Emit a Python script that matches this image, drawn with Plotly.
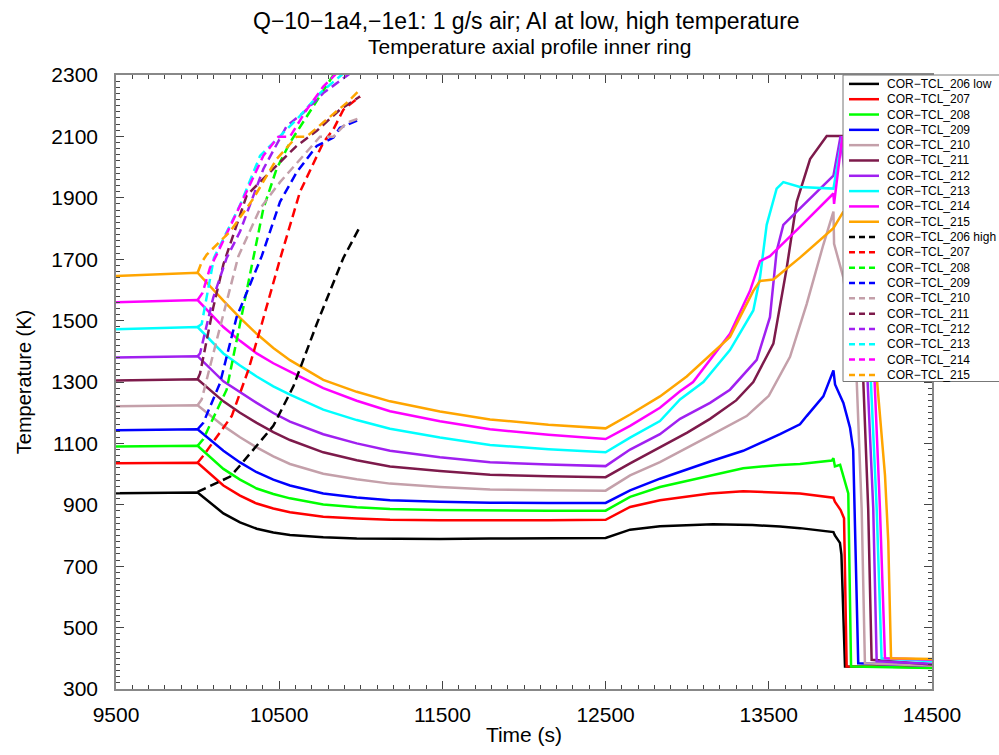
import plotly.graph_objects as go

# ---------------- data ----------------
sensors = ["206", "207", "208", "209", "210", "211", "212", "213", "214", "215"]
colors = ["#000000", "#FF0000", "#00FF00", "#0000FF", "#C4A0AA",
          "#7D1A4B", "#A020F0", "#00FFFF", "#FF00FF", "#FFA500"]
low_labels = ["COR-TCL_206 low", "COR-TCL_207", "COR-TCL_208", "COR-TCL_209", "COR-TCL_210",
              "COR-TCL_211", "COR-TCL_212", "COR-TCL_213", "COR-TCL_214", "COR-TCL_215"]
high_labels = ["COR-TCL_206 high", "COR-TCL_207", "COR-TCL_208", "COR-TCL_209", "COR-TCL_210",
               "COR-TCL_211", "COR-TCL_212", "COR-TCL_213", "COR-TCL_214", "COR-TCL_215"]

# low temperature case: common early time grid (s)
t_early = [9500, 10000, 10158, 10260, 10362, 10464, 10566, 10770, 10975, 11179, 11485, 11792, 12150]
low206_early = [938, 940, 872, 843, 822, 810, 802, 794, 790, 789, 789, 790, 791]
low207_early = [1035, 1037, 963, 930, 904, 888, 876, 861, 855, 851, 850, 849, 850]
low208_early = [1090, 1092, 1017, 982, 953, 935, 921, 901, 892, 886, 883, 881, 881]
low209_early = [1143, 1146, 1076, 1038, 1006, 982, 963, 937, 924, 915, 910, 907, 906]
low210_early = [1221, 1224, 1157, 1120, 1087, 1058, 1033, 1001, 983, 969, 958, 950, 947]
low211_early = [1305, 1309, 1237, 1200, 1167, 1137, 1111, 1071, 1045, 1025, 1010, 998, 993]
low212_early = [1380, 1384, 1302, 1266, 1232, 1199, 1171, 1130, 1100, 1076, 1055, 1039, 1031]
low213_early = [1472, 1479, 1393, 1354, 1318, 1286, 1259, 1210, 1176, 1148, 1119, 1095, 1081]
low214_early = [1560, 1567, 1479, 1434, 1393, 1361, 1334, 1280, 1239, 1205, 1172, 1146, 1128]
low215_early = [1645, 1656, 1565, 1509, 1457, 1411, 1371, 1307, 1268, 1237, 1204, 1178, 1161]

# low temperature case: late part (from 12500 s)
low206_t = [12500, 12650, 12833, 13158, 13400, 13569, 13691, 13896, 13905, 13936, 13945, 13967, 14500]
low206_T = [792, 819, 830, 837, 834, 829, 824, 811, 800, 776, 738, 373, 372]
low207_t = [12500, 12650, 12833, 13140, 13343, 13569, 13691, 13896, 13905, 13940, 13961, 13977, 14500]
low207_T = [851, 893, 915, 937, 944, 940, 937, 923, 910, 883, 856, 373, 372]
low208_t = [12500, 12650, 12833, 13140, 13343, 13569, 13691, 13886, 13896, 13905, 13937, 13987, 14004, 14500]
low208_T = [881, 926, 958, 996, 1019, 1030, 1033, 1044, 1052, 1025, 1030, 937, 373, 368]
low209_t = [12500, 12650, 12833, 13140, 13343, 13569, 13691, 13732, 13834, 13896, 13906, 13957, 13998, 14017, 14030, 14048, 14500]
low209_T = [906, 947, 985, 1041, 1076, 1130, 1162, 1189, 1253, 1338, 1292, 1232, 1150, 1080, 780, 384, 376]
low210_t = [12500, 12650, 12833, 13140, 13364, 13500, 13630, 13732, 13834, 13896, 13900, 13957, 14039, 14069, 14089, 14500]
low210_T = [946, 996, 1039, 1125, 1189, 1255, 1382, 1554, 1747, 1855, 1750, 1640, 1300, 888, 384, 376]
low211_t = [12500, 12650, 12833, 13000, 13140, 13300, 13405, 13528, 13610, 13671, 13753, 13855, 13957, 14078, 14109, 14130, 14500]
low211_T = [990, 1035, 1087, 1135, 1180, 1240, 1300, 1425, 1672, 1887, 2026, 2101, 2101, 1318, 888, 395, 380]
low212_t = [12500, 12650, 12833, 12956, 13140, 13262, 13426, 13507, 13548, 13589, 13671, 13896, 13940, 14104, 14140, 14161, 14500]
low212_T = [1026, 1080, 1130, 1180, 1232, 1275, 1372, 1511, 1726, 1812, 1855, 1972, 2101, 1318, 888, 390, 382]
low213_t = [12500, 12650, 12833, 12956, 13099, 13262, 13405, 13446, 13487, 13548, 13589, 13691, 13896, 13950, 14124, 14161, 14191, 14500]
low213_T = [1071, 1119, 1173, 1243, 1300, 1404, 1533, 1640, 1812, 1930, 1951, 1935, 1930, 2100, 1318, 888, 400, 390]
low214_t = [12500, 12650, 12833, 12956, 13036, 13262, 13385, 13446, 13507, 13691, 13896, 13900, 13950, 14147, 14181, 14212, 14500]
low214_T = [1114, 1157, 1216, 1270, 1300, 1457, 1597, 1694, 1710, 1805, 1914, 1880, 2100, 1318, 888, 400, 395]
low215_t = [12500, 12650, 12833, 12997, 13262, 13405, 13446, 13528, 13691, 13896, 13957, 14161, 14212, 14232, 14249, 14500]
low215_T = [1149, 1194, 1253, 1318, 1447, 1597, 1629, 1634, 1705, 1801, 1855, 1318, 996, 781, 400, 398]

# high temperature case
high206_t = [10000, 10100, 10200, 10260, 10350, 10464, 10587, 10730, 10893, 10995]
high206_T = [942, 968, 992, 1028, 1085, 1157, 1286, 1489, 1704, 1806]
high207_t = [10000, 10035, 10209, 10311, 10393, 10505, 10627, 10770, 10832, 10893, 10995]
high207_T = [1037, 1060, 1189, 1339, 1489, 1700, 1919, 2080, 2123, 2187, 2230]
high208_t = [10000, 10035, 10178, 10260, 10341, 10403, 10484, 10566, 10709, 10832, 10850]
high208_T = [1092, 1114, 1275, 1489, 1710, 1865, 1994, 2080, 2198, 2300, 2320]
high209_t = [10000, 10035, 10137, 10239, 10393, 10505, 10607, 10730, 10832, 10872, 10995]
high209_T = [1146, 1167, 1296, 1511, 1710, 1887, 1983, 2069, 2096, 2128, 2155]
high210_t = [10000, 10025, 10117, 10250, 10383, 10505, 10648, 10750, 10832, 10913, 10995]
high210_T = [1224, 1243, 1436, 1710, 1865, 1951, 2037, 2099, 2099, 2144, 2160]
high211_t = [10000, 10015, 10096, 10158, 10178, 10301, 10484, 10607, 10730, 10872, 10995]
high211_T = [1309, 1328, 1543, 1683, 1715, 1908, 2005, 2069, 2118, 2187, 2230]
high212_t = [10000, 10015, 10096, 10178, 10260, 10403, 10546, 10648, 10770, 10934, 10950]
high212_T = [1384, 1393, 1575, 1704, 1790, 1994, 2134, 2177, 2241, 2305, 2320]
high213_t = [10000, 10025, 10100, 10180, 10260, 10383, 10500, 10607, 10750, 10893, 10910]
high213_T = [1479, 1489, 1704, 1790, 1876, 2037, 2100, 2155, 2241, 2305, 2320]
high214_t = [10000, 10030, 10076, 10117, 10280, 10403, 10495, 10566, 10668, 10770, 10852, 10870]
high214_T = [1567, 1590, 1672, 1715, 1897, 2037, 2099, 2099, 2187, 2262, 2306, 2320]
high215_t = [10000, 10025, 10056, 10199, 10341, 10484, 10607, 10668, 10791, 10913, 10995]
high215_T = [1656, 1690, 1715, 1790, 1897, 2026, 2099, 2099, 2155, 2209, 2252]

x_tickvals = [9500, 10500, 11500, 12500, 13500, 14500]
y_tickvals = [300, 500, 700, 900, 1100, 1300, 1500, 1700, 1900, 2100, 2300]

# ---------------- figure ----------------
low_early = [low206_early, low207_early, low208_early, low209_early, low210_early,
             low211_early, low212_early, low213_early, low214_early, low215_early]
low_t = [low206_t, low207_t, low208_t, low209_t, low210_t, low211_t, low212_t, low213_t, low214_t, low215_t]
low_T = [low206_T, low207_T, low208_T, low209_T, low210_T, low211_T, low212_T, low213_T, low214_T, low215_T]
high_t = [high206_t, high207_t, high208_t, high209_t, high210_t, high211_t, high212_t, high213_t, high214_t, high215_t]
high_T = [high206_T, high207_T, high208_T, high209_T, high210_T, high211_T, high212_T, high213_T, high214_T, high215_T]

DASH = "9px,5px"
LW = 2.5
FONT = "Liberation Sans, Arial, sans-serif"

fig = go.Figure()
for i in range(len(sensors)):
    fig.add_trace(go.Scatter(
        x=t_early + low_t[i], y=low_early[i] + low_T[i], mode="lines",
        name=low_labels[i].replace("-", "\u2212"),
        line=dict(color=colors[i], width=LW), showlegend=False))
for i in range(len(sensors)):
    fig.add_trace(go.Scatter(
        x=high_t[i], y=high_T[i], mode="lines",
        name=high_labels[i].replace("-", "\u2212"),
        line=dict(color=colors[i], width=LW, dash=DASH), showlegend=False))

# plot geometry (px)
L, R, T, B = 116, 67, 75, 59
W, H = 999, 755
pw, ph = W - L - R, H - T - B


def px_x(px):
    return (px - L) / pw


def px_y(py):
    return (H - B - py) / ph


# manual legend (compact rows like the reference)
shapes = [dict(type="rect", xref="paper", yref="paper",
               x0=px_x(843), x1=px_x(1010), y0=px_y(385), y1=px_y(75),
               line=dict(color="#777777", width=1), fillcolor="white", layer="above")]
annotations = []
labels = low_labels + high_labels
row_gap = 15.49
for k, lab in enumerate(labels):
    i = k % 10
    cy = 84 + row_gap * k
    shapes.append(dict(type="line", xref="paper", yref="paper",
                       x0=px_x(849), x1=px_x(879), y0=px_y(cy), y1=px_y(cy),
                       line=dict(color=colors[i], width=LW, dash=None if k < 10 else "6px,4px"),
                       layer="above"))
    annotations.append(dict(xref="paper", yref="paper", x=px_x(885), y=px_y(cy),
                            xanchor="left", yanchor="middle", showarrow=False,
                            text=lab.replace("-", "\u2212"),
                            font=dict(size=12, color="black", family=FONT)))

# titles
annotations.append(dict(xref="paper", yref="paper", x=px_x(526), y=px_y(20),
                        xanchor="center", yanchor="middle", showarrow=False,
                        text="Q\u221210\u22121a4,\u22121e1: 1 g/s air; AI at low, high temperature",
                        font=dict(size=23, color="black", family=FONT)))
annotations.append(dict(xref="paper", yref="paper", x=px_x(529), y=px_y(46),
                        xanchor="center", yanchor="middle", showarrow=False,
                        text="Temperature axial profile inner ring",
                        font=dict(size=21, color="black", family=FONT)))

axis_common = dict(
    showgrid=False, zeroline=False, showline=True, linecolor="#888888", linewidth=1.5,
    mirror="allticks", ticks="inside", ticklen=8, tickwidth=1, tickcolor="#444444",
    tickfont=dict(size=21, color="black"),
)

fig.update_layout(
    width=W, height=H,
    margin=dict(l=L, r=R, t=T, b=B),
    paper_bgcolor="white", plot_bgcolor="white",
    font=dict(family=FONT, color="black"),
    xaxis=dict(range=[9500, 14500], tickmode="array", tickvals=x_tickvals, tickformat="d",
               minor=dict(dtick=100, tick0=9500, ticks="inside", ticklen=4, tickcolor="#444444"),
               title=dict(text="Time (s)", font=dict(size=21), standoff=2),
               ticklabelstandoff=6,
               **axis_common),
    yaxis=dict(range=[300, 2300], tickmode="array", tickvals=y_tickvals, tickformat="d",
               minor=dict(dtick=20, tick0=300, ticks="inside", ticklen=4, tickcolor="#444444"),
               title=dict(text="Temperature (K)", font=dict(size=20), standoff=14),
               ticklabelstandoff=12,
               **axis_common),
    shapes=shapes,
    annotations=annotations,
    showlegend=False,
)

fig.write_html("out.html")
